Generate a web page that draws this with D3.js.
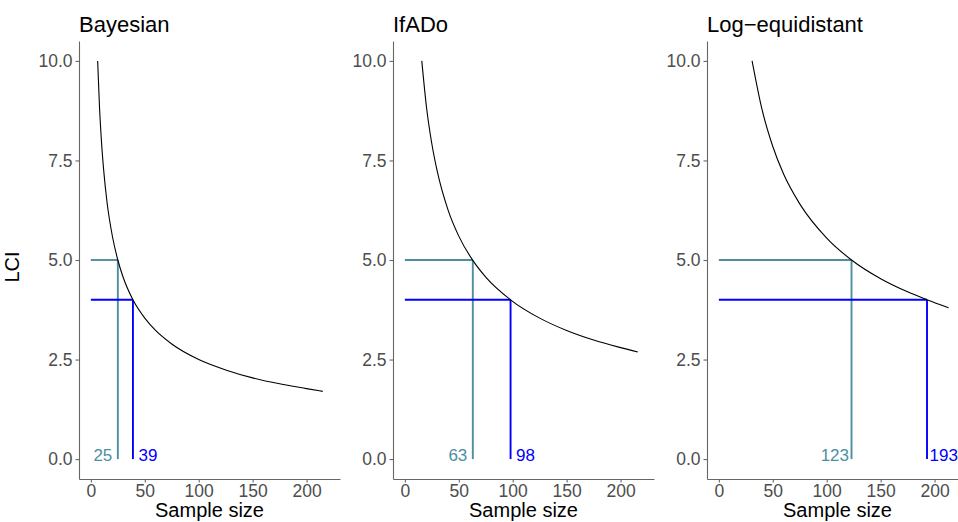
<!DOCTYPE html>
<html>
<head>
<meta charset="utf-8">
<script src="https://cdn.jsdelivr.net/npm/d3@7"></script>
<style>
  body { margin: 0; background: #ffffff; }
  text { font-family: "Liberation Sans", Arial, Helvetica, sans-serif; }
</style>
</head>
<body>
<div id="chart"></div>
<script>
// ---- data ----
var panel_titles = ["Bayesian", "IfADo", "Log\u2212equidistant"];

// curve points (sample size, LCI) per design
var bayes_n   = [6.3, 8, 10, 12, 15, 20, 25, 30, 39, 50, 60, 75, 100, 125, 150, 175, 200, 215];
var bayes_lci = [10.0, 8.84, 7.91, 7.22, 6.45, 5.59, 5.0, 4.56, 4.0, 3.54, 3.23, 2.89, 2.5, 2.24, 2.04, 1.89, 1.77, 1.70];

var ifado_n   = [15.7, 20, 25, 30, 40, 50, 63, 75, 98, 125, 150, 175, 200, 216];
var ifado_lci = [10.0, 8.85, 7.92, 7.23, 6.26, 5.60, 4.99, 4.57, 4.0, 3.54, 3.23, 2.99, 2.80, 2.69];

var logeq_n   = [30.8, 40, 50, 60, 75, 100, 123, 150, 175, 193, 213];
var logeq_lci = [10.0, 8.78, 7.85, 7.16, 6.41, 5.55, 5.0, 4.53, 4.20, 4.0, 3.80];

// cut-off LCI values and the sample sizes where each curve reaches them
var cut_lci     = [5.0, 4.0];
var bayes_cuts  = [25, 39];
var ifado_cuts  = [63, 98];
var logeq_cuts  = [123, 193];

var x_ticks = [0, 50, 100, 150, 200];
var y_ticks = [0, 2.5, 5, 7.5, 10];

// ---- layout ----
var width = 958, height = 522;
var panel_left = [79, 393, 707];
var panel_width = 261;
var panel_top = 41, panel_bottom = 479;
var cut_colors = ["#4B8FA1", "#0000FF"];
var label_gap = [5.5, 5.5, 2.5]; // gap between cut line and its number
var axis_color = "#666666";
var tick_text_color = "#4d4d4d";

var panels = [
  { title: panel_titles[0], n: bayes_n, lci: bayes_lci, cuts: bayes_cuts },
  { title: panel_titles[1], n: ifado_n, lci: ifado_lci, cuts: ifado_cuts },
  { title: panel_titles[2], n: logeq_n, lci: logeq_lci, cuts: logeq_cuts }
];

var svg = d3.select("#chart").append("svg")
  .attr("width", width)
  .attr("height", height)
  .style("display", "block");

var y = d3.scaleLinear().domain([-0.5, 10.5]).range([panel_bottom, panel_top]);

panels.forEach(function (p, i) {
  var left = panel_left[i];
  var x = d3.scaleLinear().domain([-11, 231]).range([left, left + panel_width]);
  var g = svg.append("g").attr("class", "panel");

  // y axis
  var y_axis = g.append("g")
    .attr("transform", "translate(" + left + ",0)")
    .call(d3.axisLeft(y).tickValues(y_ticks).tickFormat(d3.format(".1f"))
      .tickSize(3.5).tickSizeOuter(0).tickPadding(3));

  // x axis
  var x_axis = g.append("g")
    .attr("transform", "translate(0," + panel_bottom + ")")
    .call(d3.axisBottom(x).tickValues(x_ticks).tickFormat(d3.format("d"))
      .tickSize(3.5).tickSizeOuter(0).tickPadding(2));

  [y_axis, x_axis].forEach(function (a) {
    a.select(".domain").attr("stroke", axis_color).attr("stroke-width", 1.1);
    a.selectAll(".tick line").attr("stroke", axis_color).attr("stroke-width", 1.1);
    a.selectAll(".tick text")
      .attr("fill", tick_text_color)
      .style("font-size", "17.5px")
      .style("font-family", "'Liberation Sans', Arial, Helvetica, sans-serif");
  });

  // cut-off segments: horizontal from 0 to n, vertical from 0 up to the LCI
  p.cuts.forEach(function (n, k) {
    g.append("line")
      .attr("x1", x(0)).attr("x2", x(n))
      .attr("y1", y(cut_lci[k])).attr("y2", y(cut_lci[k]))
      .attr("stroke", cut_colors[k]).attr("stroke-width", 1.9);
    g.append("line")
      .attr("x1", x(n)).attr("x2", x(n))
      .attr("y1", y(0)).attr("y2", y(cut_lci[k]))
      .attr("stroke", cut_colors[k]).attr("stroke-width", 1.9);

    // first number sits left of its line, second one right of it
    g.append("text")
      .text(n)
      .attr("x", k == 0 ? x(n) - label_gap[i] : x(n) + label_gap[i])
      .attr("y", y(0) + 2)
      .attr("text-anchor", k == 0 ? "end" : "start")
      .attr("fill", cut_colors[k])
      .style("font-size", "17px");
  });

  // LCI curve
  var pts = p.n.map(function (d, j) { return { n: d, lci: p.lci[j] }; });
  var line = d3.line()
    .x(function (d) { return x(d.n); })
    .y(function (d) { return y(d.lci); })
    .curve(d3.curveMonotoneX);

  g.append("path")
    .datum(pts)
    .attr("d", line)
    .attr("fill", "none")
    .attr("stroke", "#000000")
    .attr("stroke-width", 1.1);

  // panel title
  g.append("text")
    .text(p.title)
    .attr("x", left)
    .attr("y", 31.5)
    .attr("fill", "#000000")
    .style("font-size", "22px");

  // x axis title
  g.append("text")
    .text("Sample size")
    .attr("x", left + panel_width / 2)
    .attr("y", 517)
    .attr("text-anchor", "middle")
    .attr("fill", "#000000")
    .style("font-size", "20px");
});

// y axis title, first panel only
svg.append("text")
  .text("LCI")
  .attr("transform", "translate(18.5,267) rotate(-90)")
  .attr("text-anchor", "middle")
  .attr("fill", "#000000")
  .style("font-size", "20px");
</script>
</body>
</html>
